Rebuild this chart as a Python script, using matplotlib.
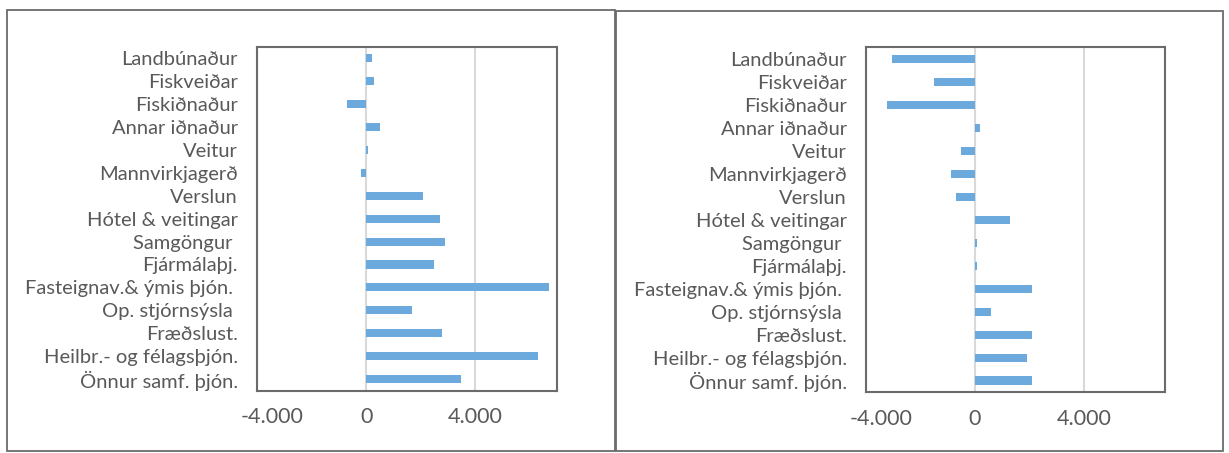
import matplotlib
matplotlib.use("Agg")
import matplotlib.pyplot as plt
from matplotlib.patches import Rectangle
import matplotlib.transforms as mtransforms

categories = ["Landbúnaður", "Fiskveiðar", "Fiskiðnaður", "Annar iðnaður", "Veitur",
              "Mannvirkjagerð", "Verslun", "Hótel & veitingar", "Samgöngur ",
              "Fjármálaþj.", "Fasteignav.& ýmis þjón. ", "Op. stjórnsýsla ",
              "Fræðslust.", "Heilbr.- og félagsþjón.", "Önnur samf. þjón."]
left_values = [200, 300, -700, 500, 50, -200, 2100, 2700, 2900, 2500, 6700, 1700, 2800, 6300, 3500]
right_values = [-3050, -1500, -3250, 200, -500, -900, -700, 1300, 80, 80, 2100, 600, 2100, 1900, 2100]
x_ticks = [-4000, 0, 4000]
x_tick_labels = ["-4.000", "0", "4.000"]

BAR = "#6CA9DC"
TXT = "#595959"
FONT = ["Lato", "DejaVu Sans"]

W, H = 1229, 453
fig = plt.figure(figsize=(W / 100, H / 100), dpi=100)

# panel borders
for (x0, y0, x1, y1) in [(7, 10, 615, 451), (616, 11, 1223, 451)]:
    fig.patches.append(Rectangle((x0 / W, 1 - y1 / H), (x1 - x0) / W, (y1 - y0) / H,
                                 transform=fig.transFigure, fill=False,
                                 edgecolor="#6b6b6b", linewidth=1.3))

def panel(rect, values):
    ax = fig.add_axes(rect)
    y = list(range(len(categories)))
    ax.barh(y, values, height=0.35, color=BAR, zorder=3)
    ax.set_xlim(-4000, 7000)
    ax.set_ylim(len(categories) - 0.5, -0.5)
    ax.set_yticks(y)
    ax.set_yticklabels(categories, fontsize=14.5, color=TXT, family=FONT)
    ax.set_xticks(x_ticks)
    ax.set_xticklabels(x_tick_labels, fontsize=15.5, color=TXT, family=FONT)
    ax.tick_params(axis="y", length=0, pad=14)
    ax.tick_params(axis="x", length=0, pad=12)
    ax.grid(axis="x", color="#d9d9d9", linewidth=1.5, zorder=0)
    for s in ax.spines.values():
        s.set_color("#6b6b6b")
        s.set_linewidth(1.5)
    lbl = ax.get_xticklabels()[0]
    lbl.set_transform(lbl.get_transform() + mtransforms.ScaledTranslation(15 / 100, 0, fig.dpi_scale_trans))
    return ax

panel([257.3 / W, 1 - 390.7 / H, (556.7 - 257.3) / W, (390.7 - 46.5) / H], left_values)
panel([866.3 / W, 1 - 392 / H, (1165.3 - 866.3) / W, (392 - 47.3) / H], right_values)

fig.savefig("out.png", dpi=100)
